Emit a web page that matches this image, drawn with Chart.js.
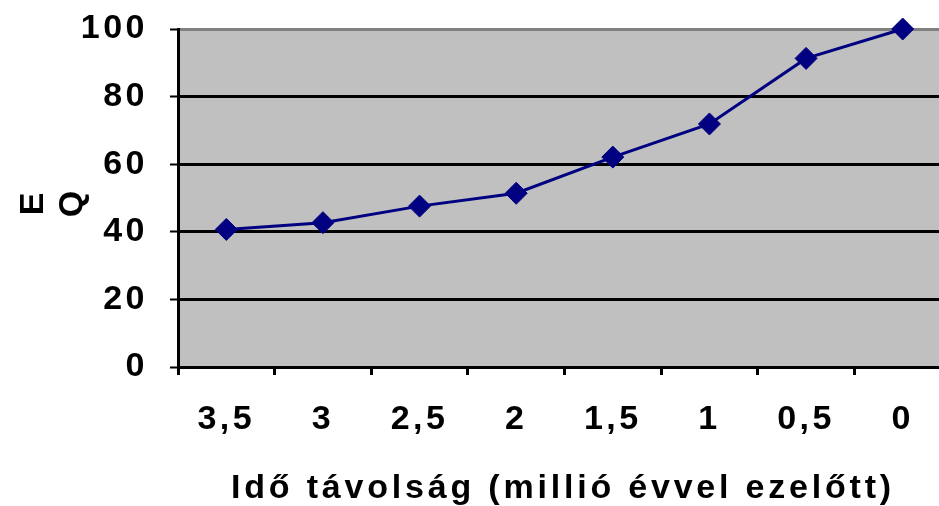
<!DOCTYPE html>
<html>
<head>
<meta charset="utf-8">
<script src="https://cdn.jsdelivr.net/npm/chart.js@4/dist/chart.umd.min.js"></script>
<style>
  html, body { margin: 0; padding: 0; background: #ffffff; overflow: hidden; width: 939px; height: 506px; }
  #wrap { position: absolute; left: 0; top: 0; width: 951px; height: 506px; }
</style>
</head>
<body>
<div id="wrap"><canvas id="c" width="951" height="506"></canvas></div>
<script>
// ---- data ----
const categories = ["3,5", "3", "2,5", "2", "1,5", "1", "0,5", "0"];
const eqValues = [40.7, 42.7, 47.6, 51.4, 62.1, 71.9, 91.3, 100];
const yTickValues = [0, 20, 40, 60, 80, 100];
const xAxisTitle = "Idő távolság (millió évvel ezelőtt)";
const yAxisTitleLines = ["E", "Q"];

const FONT_FAMILY = "'Liberation Sans', Arial, sans-serif";
const PLOT_LEFT = 178, PLOT_TOP = 29, PLOT_BOTTOM = 367;

function zeroPad(scale) {
  scale.paddingTop = 0;
  scale.paddingBottom = 0;
  scale.paddingLeft = 0;
  scale.paddingRight = 0;
}

const plotBg = {
  id: 'plotBg',
  beforeDraw(chart) {
    const { ctx, chartArea: a } = chart;
    ctx.letterSpacing = '3.5px';
    ctx.save();
    ctx.fillStyle = '#C0C0C0';
    ctx.fillRect(a.left, a.top, a.right - a.left, a.bottom - a.top);
    ctx.restore();
  },
  afterDraw(chart) {
    const { ctx } = chart;
    ctx.save();
    ctx.fillStyle = '#000000';
    ctx.font = 'bold 34px ' + FONT_FAMILY;
    ctx.letterSpacing = '3.8px';
    ctx.textAlign = 'center';
    ctx.textBaseline = 'alphabetic';
    ctx.fillText(xAxisTitle, 563, 498);
    ctx.restore();

    ctx.save();
    ctx.fillStyle = '#000000';
    ctx.font = 'bold 34px ' + FONT_FAMILY;
    ctx.letterSpacing = '0px';
    ctx.textAlign = 'center';
    ctx.textBaseline = 'alphabetic';
    const baselines = [43, 82];
    yAxisTitleLines.forEach((t, i) => {
      ctx.save();
      ctx.translate(baselines[i], 204);
      ctx.rotate(-Math.PI / 2);
      ctx.fillText(t, 0, 0);
      ctx.restore();
    });
    ctx.restore();
  }
};

new Chart(document.getElementById('c'), {
  type: 'line',
  data: {
    labels: categories,
    datasets: [{
      label: 'EQ',
      data: eqValues,
      borderColor: '#000080',
      backgroundColor: '#000080',
      borderWidth: 3,
      pointStyle: 'rectRot',
      pointRadius: 11,
      pointHoverRadius: 11,
      pointBorderWidth: 1,
      pointBorderColor: '#000080',
      pointBackgroundColor: '#000080',
      tension: 0,
      fill: false,
      clip: false
    }]
  },
  options: {
    responsive: false,
    animation: false,
    devicePixelRatio: 1,
    layout: { autoPadding: false, padding: { top: PLOT_TOP, right: 0, bottom: 0, left: 0 } },
    plugins: {
      legend: { display: false },
      tooltip: { enabled: false }
    },
    scales: {
      x: {
        type: 'category',
        offset: true,
        afterFit(scale) { scale.height = 506 - PLOT_BOTTOM; zeroPad(scale); },
        grid: {
          offset: true,
          drawOnChartArea: false,
          drawTicks: true,
          tickLength: 8,
          tickWidth: 3,
          tickColor: '#000000'
        },
        border: { display: true, color: '#000000', width: 3 },
        ticks: {
          color: '#000000',
          font: { family: FONT_FAMILY, size: 34, weight: 'bold' },
          padding: 24,
          maxRotation: 0,
          autoSkip: false
        }
      },
      y: {
        min: 0,
        max: 100,
        afterFit(scale) { scale.width = PLOT_LEFT; zeroPad(scale); },
        afterBuildTicks(scale) { scale.ticks = yTickValues.map(v => ({ value: v })); },
        grid: {
          color: (c) => (c.tick && c.tick.value === 100) ? '#808080' : '#000000',
          lineWidth: 3,
          drawTicks: true,
          tickLength: 8,
          tickWidth: 2,
          tickColor: '#000000'
        },
        border: { display: true, color: '#000000', width: 3 },
        ticks: {
          color: '#000000',
          font: { family: FONT_FAMILY, size: 34, weight: 'bold' },
          padding: 22
        }
      }
    }
  },
  plugins: [plotBg]
});
</script>
</body>
</html>
